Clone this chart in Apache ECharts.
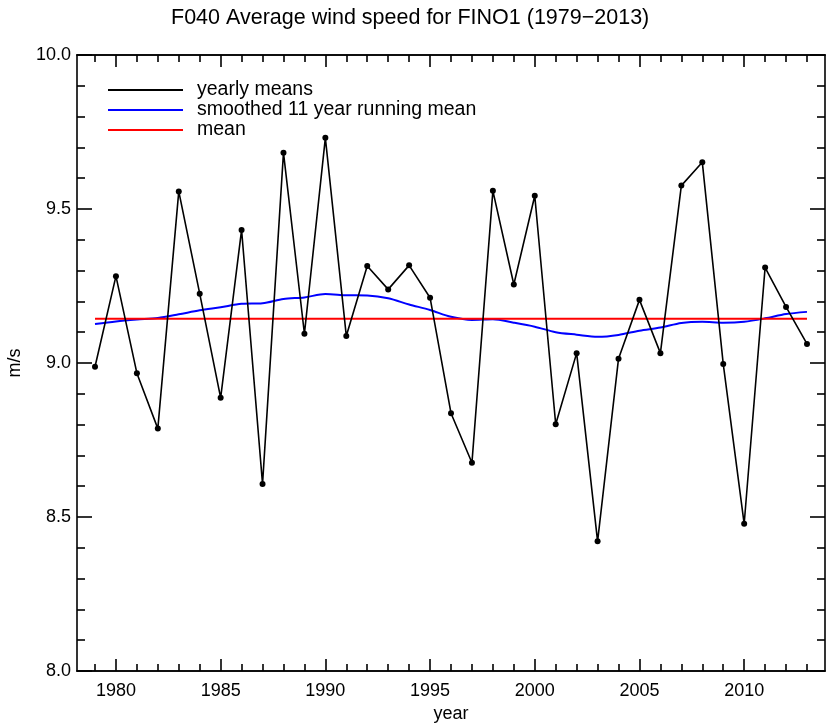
<!DOCTYPE html>
<html>
<head>
<meta charset="utf-8">
<script src="https://cdn.jsdelivr.net/npm/echarts@6/dist/echarts.min.js"></script>
<style>html,body{margin:0;padding:0;background:#fff}#c{width:830px;height:726px}</style>
</head>
<body>
<div id="c"></div>
<script>
const years = [1979,1980,1981,1982,1983,1984,1985,1986,1987,1988,1989,1990,1991,1992,1993,1994,1995,1996,1997,1998,1999,2000,2001,2002,2003,2004,2005,2006,2007,2008,2009,2010,2011,2012,2013];
const yearlyMeans = [8.988,9.282,8.967,8.787,9.557,9.225,8.887,9.432,8.607,9.683,9.095,9.731,9.088,9.315,9.239,9.317,9.212,8.837,8.676,9.559,9.255,9.543,8.801,9.032,8.421,9.014,9.205,9.032,9.576,9.652,8.997,8.478,9.310,9.182,9.062];
const smoothed = [9.127,9.135,9.141,9.146,9.158,9.171,9.181,9.192,9.194,9.208,9.213,9.224,9.220,9.219,9.210,9.190,9.172,9.150,9.140,9.142,9.131,9.118,9.100,9.092,9.085,9.091,9.105,9.115,9.130,9.134,9.131,9.134,9.145,9.159,9.166];
const meanValue = [9.144];
const majorYearTicks = [1980,1985,1990,1995,2000,2005,2010];
const minorYearTicks = years.filter(y => y % 5 !== 0);

const X_MIN = 1978.14, X_MAX = 2013.86;
const FONT = 'Liberation Sans';
const axisLineStyle = {color:'#000', width:1.6};

function xAx(pos, ticks, len, labels) {
  return {
    type:'value', position:pos, min:X_MIN, max:X_MAX,
    axisLine:{show:true, onZero:false, lineStyle:axisLineStyle},
    axisTick:{show:true, inside:true, length:len, customValues:ticks, lineStyle:{color:'#000', width:1.6}},
    axisLabel: labels ? {show:true, customValues:majorYearTicks, color:'#000', fontSize:18, fontFamily:FONT, margin:11, formatter: v => String(v)} : {show:false},
    splitLine:{show:false},
    name: labels ? 'year' : '', nameLocation:'middle', nameGap:32,
    nameTextStyle:{color:'#000', fontSize:18, fontFamily:FONT}
  };
}
function yAx(pos, labels) {
  return {
    type:'value', position:pos, min:8, max:10, interval:0.5,
    axisLine:{show:true, onZero:false, lineStyle:axisLineStyle},
    axisTick:{show:true, inside:true, length:15, lineStyle:{color:'#000', width:1.6}},
    minorTick:{show:true, splitNumber:5, length:8, lineStyle:{color:'#000', width:1.6}},
    axisLabel: labels ? {show:true, color:'#000', fontSize:18, fontFamily:FONT, margin:6, formatter: v => v.toFixed(1)} : {show:false},
    splitLine:{show:false},
    name: labels ? 'm/s' : '', nameLocation:'middle', nameGap:53, nameRotate:90,
    nameTextStyle:{color:'#000', fontSize:18, fontFamily:FONT}
  };
}

const chart = echarts.init(document.getElementById('c'), null, {renderer:'canvas'});
chart.setOption({
  animation:false,
  backgroundColor:'#fff',
  title:{text:'F040 Average wind speed for FINO1 (1979\u22122013)', left:166, top:2,
    textStyle:{color:'#000', fontSize:21.5, fontWeight:'normal', fontFamily:FONT}},
  grid:{left:77, top:55, right:5, bottom:55, containLabel:false, outerBoundsMode:'none'},
  legend:{
    orient:'vertical', left:108, top:80, padding:0, icon:'rect', itemWidth:75, itemHeight:2, itemGap:0,
    data:['yearly means','smoothed 11 year running mean','mean'],
    textStyle:{color:'#000', fontSize:19.5, fontFamily:FONT, lineHeight:20, padding:[0,0,0,9]}
  },
  xAxis:[
    xAx('bottom', majorYearTicks, 12, true),
    xAx('bottom', minorYearTicks, 7, false),
    xAx('top', majorYearTicks, 12, false),
    xAx('top', minorYearTicks, 7, false)
  ],
  yAxis:[ yAx('left', true), yAx('right', false) ],
  series:[
    {name:'yearly means', type:'line', xAxisIndex:0, yAxisIndex:0,
      data: years.map((y,i)=>[y, yearlyMeans[i]]),
      symbol:'circle', symbolSize:6, showSymbol:true,
      lineStyle:{color:'#000', width:1.6}, itemStyle:{color:'#000'}, z:3},
    {name:'smoothed 11 year running mean', type:'line', xAxisIndex:0, yAxisIndex:0,
      data: years.map((y,i)=>[y, smoothed[i]]), smooth:0.3,
      showSymbol:false, symbol:'none', lineStyle:{color:'#0000ff', width:2}, itemStyle:{color:'#0000ff'}, z:2},
    {name:'mean', type:'line', xAxisIndex:0, yAxisIndex:0,
      data: [[years[0], meanValue[0]], [years[years.length-1], meanValue[0]]],
      showSymbol:false, symbol:'none', lineStyle:{color:'#ff0000', width:2}, itemStyle:{color:'#ff0000'}, z:2}
  ]
});
</script>
</body>
</html>
